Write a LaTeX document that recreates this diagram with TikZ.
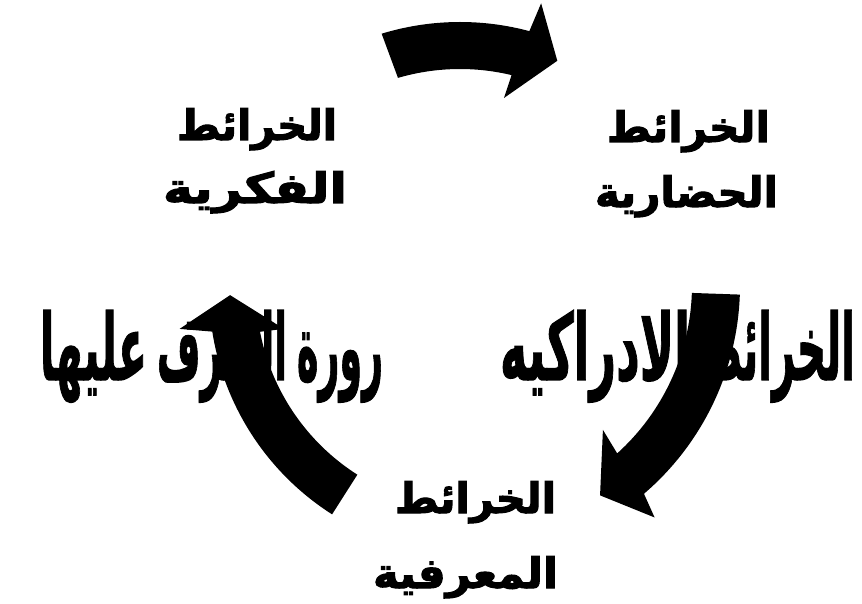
\documentclass[tikz,border=0pt]{standalone}
\usepackage{fontspec}
\usepackage{graphicx}
\usetikzlibrary{calc}
\TeXXeTstate=1
\newfontfamily\arabicheavy[Script=Arabic,FakeBold=2.5]{DejaVu Sans Bold}
\newfontfamily\arabicmid[Script=Arabic,FakeBold=1.5]{DejaVu Sans Bold}
\newcommand{\artxt}[3]{\resizebox{#1pt}{\height}{\fontsize{#2}{#2}\selectfont\arabicheavy\beginR #3\endR}}
\newcommand{\midtxt}[3]{\resizebox{#1pt}{\height}{\fontsize{#2}{#2}\selectfont\arabicmid\beginR #3\endR}}
\tikzset{
  blockarrow/.style={fill=black, draw=none},
  lbl/.style={inner sep=0pt, outer sep=0pt, anchor=base east, text=black},
}
\begin{document}
\begin{tikzpicture}[x=1pt,y=1pt]
\fill[white] (0,0) rectangle (862,603);
\useasboundingbox (0,0) rectangle (862,603);
\coordinate (C1) at (460,313);
\coordinate (C2) at (465,318);
\coordinate (C3) at (475,313);
% top arrow
\fill[blockarrow] ($(C1)+(107:268)$) arc[start angle=107, end angle=75, radius=268]
  -- ($(C1)+(74.2:298)$) -- ($(C1)+(67:249)$) -- ($(C1)+(77.1:197)$)
  -- ($(C1)+(76.5:221)$) arc[start angle=76.5, end angle=106.3, radius=221] -- cycle;
% right arrow
\fill[blockarrow] ($(C2)+(-2:275)$) arc[start angle=-2, end angle=-49.4, radius=275]
  -- ($(C2)+(-50.8:300)$) -- ($(C2)+(-57.3:250)$) -- ($(C2)+(-46.4:200)$)
  -- ($(C2)+(-47.9:227)$) arc[start angle=-47.9, end angle=-2, radius=227] -- cycle;
% left arrow
\fill[blockarrow] ($(C3)+(237.5:266)$) arc[start angle=237.5, end angle=189, radius=266]
  -- ($(C3)+(187.5:298)$) -- ($(C3)+(181.2:245)$) -- ($(C3)+(191.5:195)$)
  -- ($(C3)+(191:219)$) arc[start angle=191, end angle=237.5, radius=219] -- cycle;
% labels
\node[lbl] (fk1) at (337,463) {\artxt{160}{42}{الخرائط}};
\node[lbl] (fk2) at (347,400) {\artxt{184}{42}{الفكرية}};
\node[lbl] (hd1) at (770,461) {\artxt{163}{42}{الخرائط}};
\node[lbl] (hd2) at (778,396) {\artxt{183}{42}{الحضارية}};
\node[lbl] (mr1) at (556,90) {\artxt{161}{42}{الخرائط}};
\node[lbl] (mr2) at (558,15) {\artxt{185}{42}{المعرفية}};
% middle line
\node[lbl] (m1) at (855,223) {\midtxt{155}{92}{الخرائط}};
\node[lbl] (m2) at (690,223) {\midtxt{190}{92}{الادراكيه}};
\node[lbl] (m3) at (383,223) {\midtxt{86}{92}{رورة}};
\node[lbl] (m4) at (287,223) {\midtxt{130}{92}{التعرف}};
\node[lbl] (m5) at (147,223) {\midtxt{107}{92}{عليها}};
\end{tikzpicture}
\end{document}
